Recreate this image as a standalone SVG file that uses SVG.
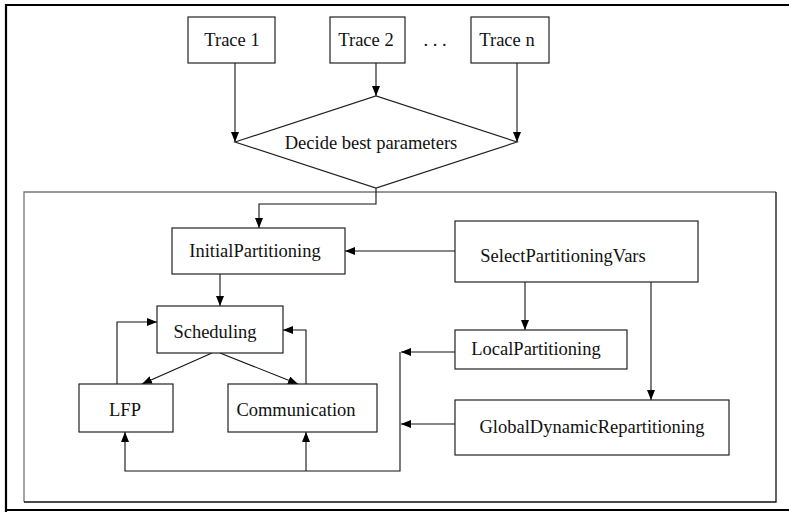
<svg xmlns="http://www.w3.org/2000/svg" width="789" height="512" viewBox="0 0 789 512">
<defs>
<style>
.box{fill:#fff;stroke:#222;stroke-width:1.2}
.lbl{font-family:"Liberation Serif","Times New Roman",serif;font-size:18.5px;fill:#111;text-anchor:middle}
.con{fill:none;stroke:#111;stroke-width:1.1}
</style>
<marker id="ah" viewBox="0 0 10 8" refX="10" refY="4" markerWidth="10" markerHeight="8" markerUnits="userSpaceOnUse" orient="auto">
<path d="M0,0 L10,4 L0,8 Z" fill="#000"/>
</marker>
</defs>
<rect width="789" height="512" fill="#fff"/>
<path d="M6,512 V5 H789" fill="none" stroke="#000" stroke-width="2.2"/>
<path d="M6,510 H789" fill="none" stroke="#000" stroke-width="2.2"/>
<g id="container">
<path d="M24,502 V192 H776" fill="none" stroke="#777" stroke-width="1.3"/>
<path d="M776,192 V502 H24" fill="none" stroke="#111" stroke-width="1.3"/>
</g>
<g id="connectors">
<path class="con" d="M235,63 V142" marker-end="url(#ah)"/>
<path class="con" d="M376,63 V96" marker-end="url(#ah)"/>
<path class="con" d="M517,63 V142" marker-end="url(#ah)"/>
<path class="con" d="M376,188 V204 H259 V228" marker-end="url(#ah)"/>
<path class="con" d="M455,251 H345" marker-end="url(#ah)"/>
<path class="con" d="M220,274 V306" marker-end="url(#ah)"/>
<path class="con" d="M212,353 L142,384" marker-end="url(#ah)"/>
<path class="con" d="M220,353 L298,384" marker-end="url(#ah)"/>
<path class="con" d="M117,384 V322 H157" marker-end="url(#ah)"/>
<path class="con" d="M306,384 V330 H283" marker-end="url(#ah)"/>
<path class="con" d="M525,282 V330" marker-end="url(#ah)"/>
<path class="con" d="M651,282 V400" marker-end="url(#ah)"/>
<path class="con" d="M455,352 H401" marker-end="url(#ah)"/>
<path class="con" d="M455,424 H401" marker-end="url(#ah)"/>
<path class="con" d="M400,352 V471 H125 V432" marker-end="url(#ah)"/>
<path class="con" d="M306,471 V432" marker-end="url(#ah)"/>
</g>
<g id="trace1"><rect class="box" x="188" y="17" width="87" height="46"/><text class="lbl" x="232" y="46">Trace 1</text></g>
<g id="trace2"><rect class="box" x="330" y="17" width="75" height="46"/><text class="lbl" x="366" y="46">Trace 2</text></g>
<g id="ellipsis"><text class="lbl" x="435" y="46">. . .</text></g>
<g id="tracen"><rect class="box" x="471" y="17" width="78" height="46"/><text class="lbl" x="507" y="46">Trace n</text></g>
<g id="decide"><polygon class="box" points="235,142 376,96 517,142 376,188"/><text class="lbl" x="371" y="149">Decide best parameters</text></g>
<g id="initial"><rect class="box" x="172" y="228" width="173" height="46"/><text class="lbl" x="255" y="257">InitialPartitioning</text></g>
<g id="select"><rect class="box" x="455" y="221" width="243" height="61"/><text class="lbl" x="563" y="262">SelectPartitioningVars</text></g>
<g id="scheduling"><rect class="box" x="157" y="306" width="126" height="47"/><text class="lbl" x="215" y="338">Scheduling</text></g>
<g id="local"><rect class="box" x="455" y="330" width="172" height="39"/><text class="lbl" x="536" y="355">LocalPartitioning</text></g>
<g id="lfp"><rect class="box" x="79" y="384" width="94" height="48"/><text class="lbl" x="125" y="416">LFP</text></g>
<g id="communication"><rect class="box" x="228" y="384" width="149" height="48"/><text class="lbl" x="296" y="416">Communication</text></g>
<g id="global"><rect class="box" x="455" y="400" width="274" height="55"/><text class="lbl" x="592" y="433">GlobalDynamicRepartitioning</text></g>
</svg>
